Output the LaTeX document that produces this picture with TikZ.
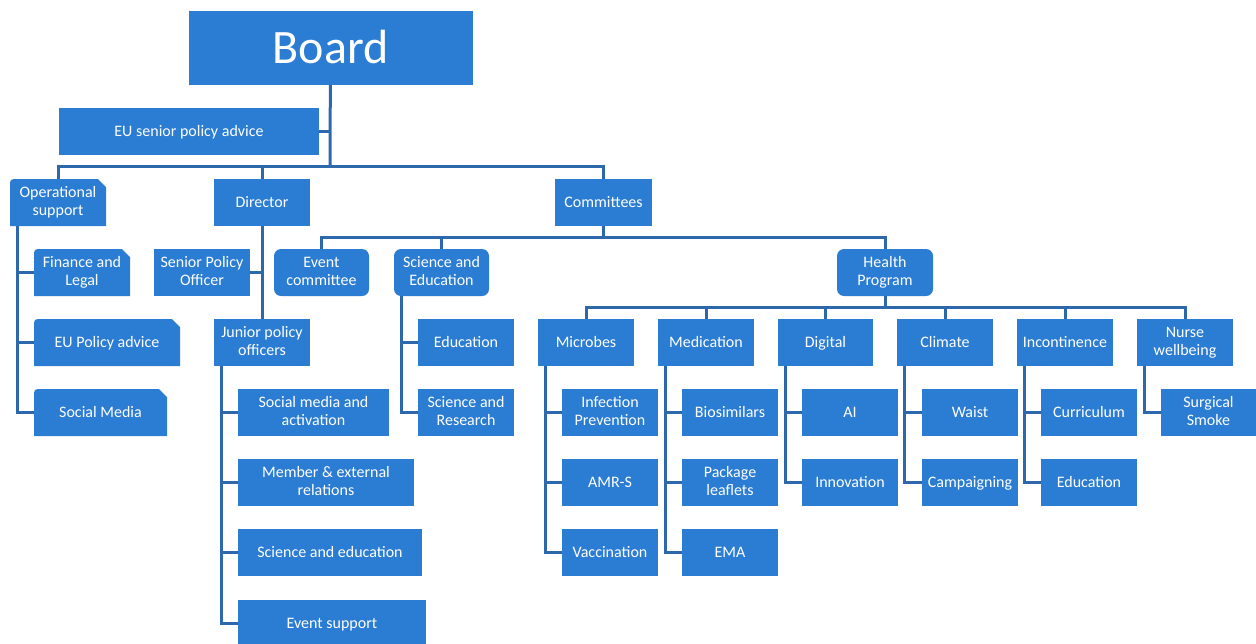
\documentclass[tikz,border=0pt]{standalone}
\usepackage{fontspec}
\setmainfont{Carlito}
\definecolor{boxblue}{HTML}{2B7CD3}
\definecolor{linkblue}{HTML}{2E68AC}
\newcommand\unitstrut{\rule[-3pt]{0pt}{16pt}}
\tikzset{
  unit/.style={fill=boxblue, text=white, minimum width=96pt, minimum height=47pt,
    align=center, inner sep=2pt, font=\fontsize{16}{18}\selectfont,
    execute at begin node=\unitstrut, execute at end node=\unitstrut},
  roundunit/.style={unit, rounded corners=7pt},
  snipunit/.style={unit, fill=white, path picture={
    \fill[boxblue] (path picture bounding box.south west)
      -- ([yshift=-8pt]path picture bounding box.north west)
      .. controls (path picture bounding box.north west) .. ([xshift=8pt]path picture bounding box.north west)
      -- ([xshift=-8pt]path picture bounding box.north east)
      -- ([yshift=-8pt]path picture bounding box.north east)
      -- (path picture bounding box.south east) -- cycle;}},
  link/.style={draw=linkblue, line width=3pt},
}
\begin{document}
\begin{tikzpicture}[x=1pt, y=-1pt]
\useasboundingbox (0,0) rectangle (1256,643);

\node[fill=boxblue, text=white, minimum width=284pt, minimum height=74pt, font=\fontsize{48}{52}\selectfont] (board) at (330.5, 47.5) {Board};
\node[unit, minimum width=260pt] (eusen) at (189, 131.5) {EU senior policy advice};

\node[snipunit] (ops) at (58, 202.5) {Operational\\support};
\node[unit] (dir) at (262, 202.5) {Director};
\node[unit, minimum width=97pt] (com) at (603.5, 202.5) {Committees};

\node[snipunit] (fin) at (82, 272.5) {Finance and\\Legal};
\node[snipunit, minimum width=146pt] (eupol) at (107, 342.5) {EU Policy advice};
\node[snipunit, minimum width=133pt] (socm) at (100.5, 412.5) {Social Media};

\node[unit] (spo) at (202, 272.5) {Senior Policy\\Officer};
\node[unit] (jun) at (262, 342.5) {Junior policy\\officers};
\node[unit, minimum width=151pt] (sma) at (313.5, 412.5) {Social media and\\activation};
\node[unit, minimum width=176pt] (mer) at (326, 482.5) {Member \& external\\relations};
\node[unit, minimum width=184pt] (sce) at (330, 552.5) {Science and education};
\node[unit, minimum width=188pt] (evs) at (332, 623.5) {Event support};

\node[roundunit, minimum width=95pt] (evc) at (321.5, 272.5) {Event\\committee};
\node[roundunit, minimum width=95pt] (sed) at (441.5, 272.5) {Science and\\Education};
\node[roundunit] (hp) at (885, 272.5) {Health\\Program};

\node[unit] (edu1) at (466, 342.5) {Education};
\node[unit] (scr) at (466, 412.5) {Science and\\Research};

\node[unit] (mic) at (586, 342.5) {Microbes};
\node[unit] (med) at (706, 342.5) {Medication};
\node[unit, minimum width=95pt] (dig) at (825.5, 342.5) {Digital};
\node[unit] (cli) at (945, 342.5) {Climate};
\node[unit] (inc) at (1065, 342.5) {Incontinence};
\node[unit] (nur) at (1185, 342.5) {Nurse\\wellbeing};

\node[unit] (inf) at (610, 412.5) {Infection\\Prevention};
\node[unit] (amr) at (610, 482.5) {AMR-S};
\node[unit] (vac) at (610, 552.5) {Vaccination};
\node[unit] (bio) at (730, 412.5) {Biosimilars};
\node[unit] (pkg) at (730, 482.5) {Package\\leaflets};
\node[unit] (ema) at (730, 552.5) {EMA};
\node[unit] (ai) at (850, 412.5) {AI};
\node[unit] (inn) at (850, 482.5) {Innovation};
\node[unit] (wai) at (970, 412.5) {Waist};
\node[unit] (cam) at (970, 482.5) {Campaigning};
\node[unit] (cur) at (1089, 412.5) {Curriculum};
\node[unit] (edu2) at (1089, 482.5) {Education};
\node[unit, minimum width=95pt] (sur) at (1208.5, 412.5) {Surgical\\Smoke};

\coordinate (bus1) at (330, 166);
\coordinate (bus2) at (603.5, 237);
\coordinate (bus3) at (885, 307);

\draw[link] (board) -- (bus1);
\draw[link] (eusen.east) -- (eusen.east -| bus1);
\draw[link] (bus1) -| (ops);
\draw[link] (bus1) -| (dir);
\draw[link] (bus1) -| (com);

\draw[link] ([xshift=8pt]ops.south west) |- (fin.west);
\draw[link] ([xshift=8pt]ops.south west) |- (eupol.west);
\draw[link] ([xshift=8pt]ops.south west) |- (socm.west);

\draw[link] (dir) -- (jun);
\draw[link] (spo.east) -- (spo.east -| dir.south);
\draw[link] ([xshift=8pt]jun.south west) |- (sma.west);
\draw[link] ([xshift=8pt]jun.south west) |- (mer.west);
\draw[link] ([xshift=8pt]jun.south west) |- (sce.west);
\draw[link] ([xshift=8pt]jun.south west) |- (evs.west);

\draw[link] (com) -- (bus2);
\draw[link] (bus2) -| (evc);
\draw[link] (bus2) -| (sed);
\draw[link] (bus2) -| (hp);

\draw[link] ([xshift=8pt]sed.south west) |- (edu1.west);
\draw[link] ([xshift=8pt]sed.south west) |- (scr.west);

\draw[link] (hp) -- (bus3);
\draw[link] (bus3) -| (mic);
\draw[link] (bus3) -| (med);
\draw[link] (bus3) -| (dig);
\draw[link] (bus3) -| (cli);
\draw[link] (bus3) -| (inc);
\draw[link] (bus3) -| (nur);

\draw[link] ([xshift=8pt]mic.south west) |- (inf.west);
\draw[link] ([xshift=8pt]mic.south west) |- (amr.west);
\draw[link] ([xshift=8pt]mic.south west) |- (vac.west);
\draw[link] ([xshift=8pt]med.south west) |- (bio.west);
\draw[link] ([xshift=8pt]med.south west) |- (pkg.west);
\draw[link] ([xshift=8pt]med.south west) |- (ema.west);
\draw[link] ([xshift=8pt]dig.south west) |- (ai.west);
\draw[link] ([xshift=8pt]dig.south west) |- (inn.west);
\draw[link] ([xshift=8pt]cli.south west) |- (wai.west);
\draw[link] ([xshift=8pt]cli.south west) |- (cam.west);
\draw[link] ([xshift=8pt]inc.south west) |- (cur.west);
\draw[link] ([xshift=8pt]inc.south west) |- (edu2.west);
\draw[link] ([xshift=8pt]nur.south west) |- (sur.west);
\end{tikzpicture}
\end{document}
